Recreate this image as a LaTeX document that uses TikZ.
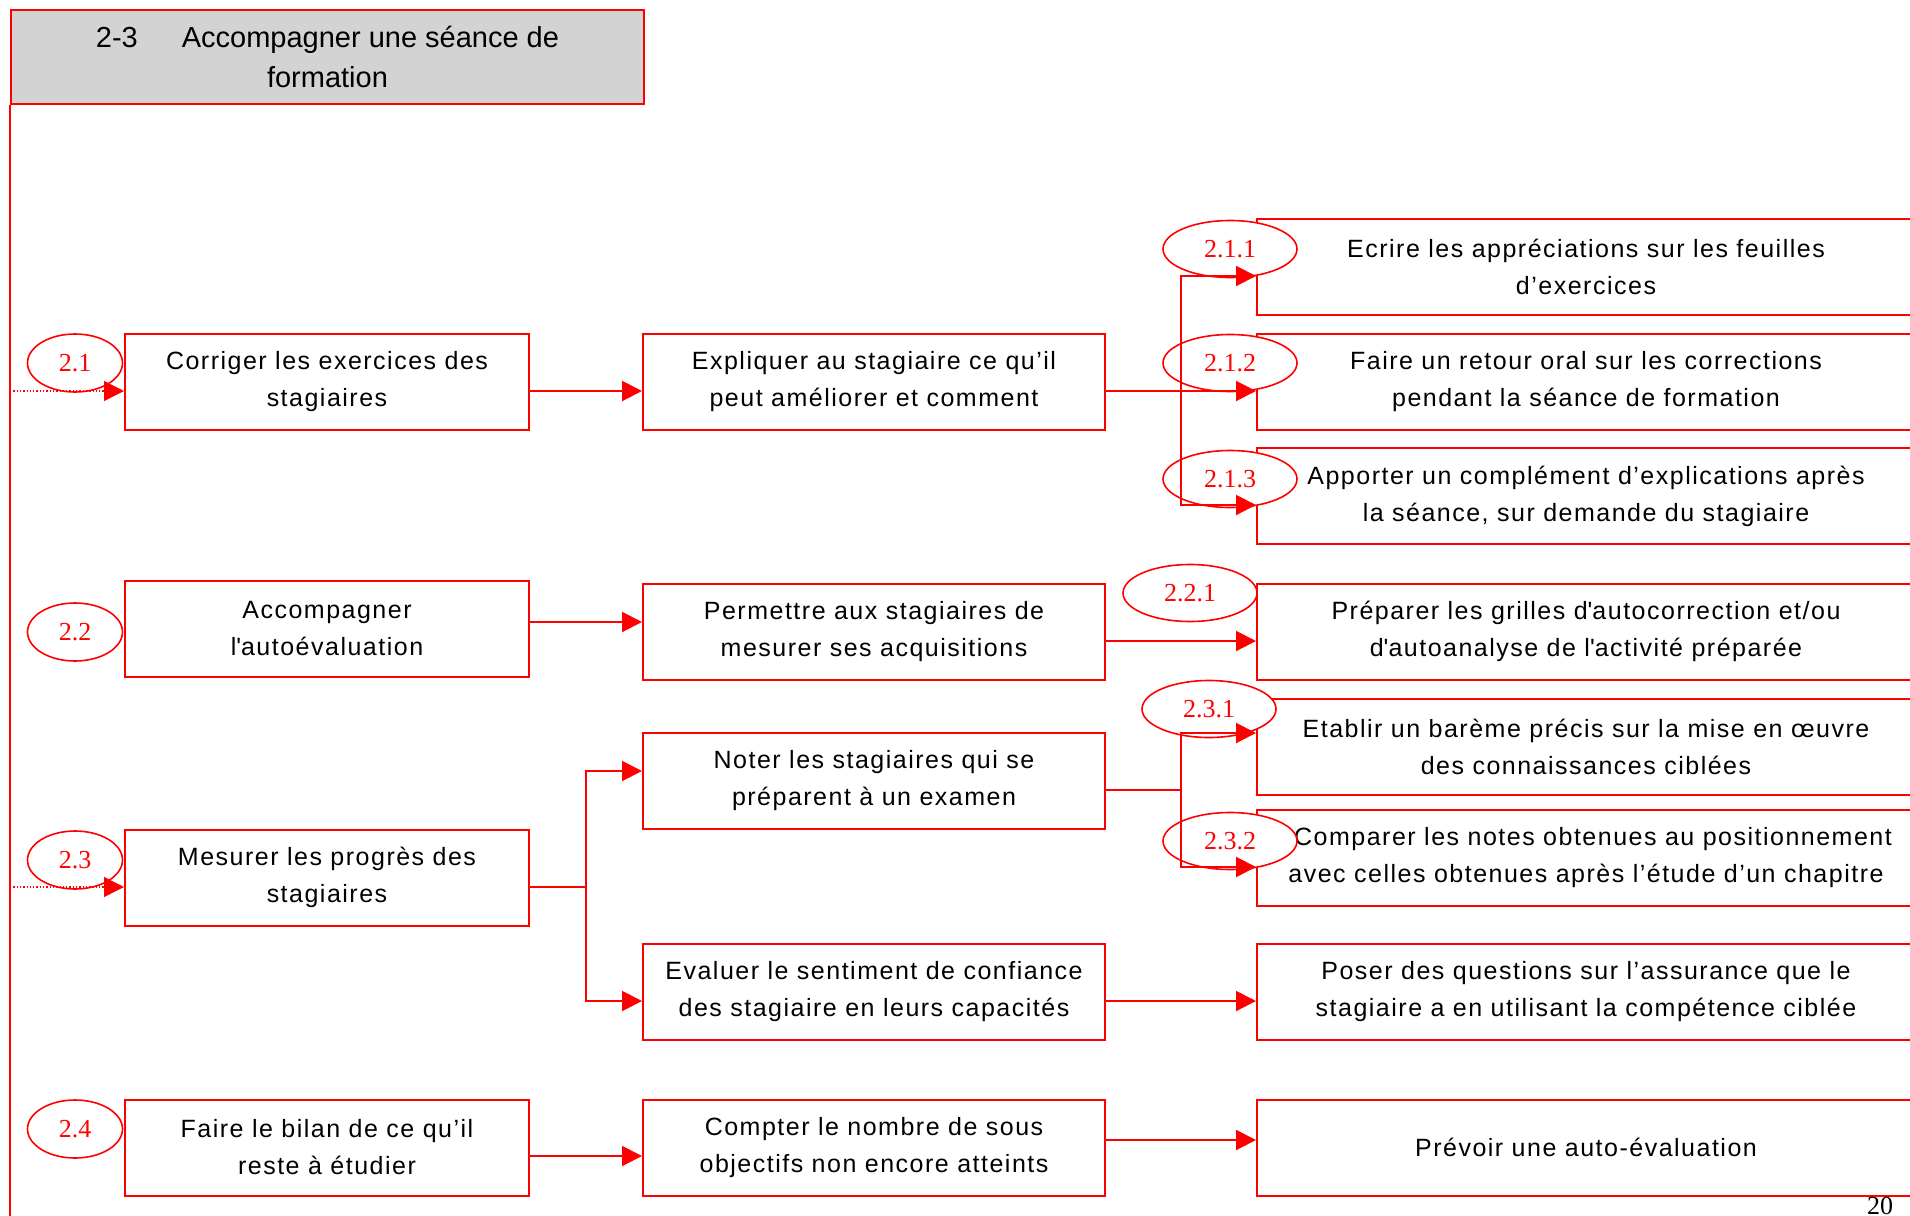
\documentclass[tikz,border=0pt]{standalone}
\usepackage{fontspec}
\setmainfont{Liberation Sans}[LetterSpace=6]
\newfontfamily\titlefont{Liberation Sans}
\newfontfamily\serifnum{Liberation Serif}
\usetikzlibrary{arrows.meta,shapes.geometric}
\definecolor{ttlgray}{RGB}{211,211,211}
\definecolor{rd}{RGB}{255,0,0}
\newcommand{\sq}{\textquotesingle}
\begin{document}
\begin{tikzpicture}[x=1pt,y=-1pt,
  box/.style={draw=rd, line width=2pt, fill=white, minimum height=96pt, align=center, inner sep=0pt, font=\fontsize{25}{37}\selectfont},
  bone/.style={box, minimum width=404pt},
  btwo/.style={box, minimum width=462pt},
  bthree/.style={box, minimum width=658pt},
  num/.style={draw=rd, line width=1.6pt, ellipse, fill=white, inner sep=0pt, text=rd, font=\serifnum\fontsize{26}{26}\selectfont},
  numone/.style={num, minimum width=95pt, minimum height=58pt},
  numthree/.style={num, minimum width=134pt, minimum height=57pt},
  con/.style={draw=rd, line width=2pt},
  arr/.style={con, -{Triangle[length=20pt,width=20pt]}},
  dotarr/.style={draw=rd, line width=1.3pt, dotted, -{Triangle[length=20pt,width=20pt]}}
]
\useasboundingbox (0,0) rectangle (1910,1215);
\clip (0,0) rectangle (1910,1215);

% title
\node[draw=rd, line width=2pt, fill=ttlgray, minimum width=633pt, minimum height=94pt, anchor=north west, align=center, inner sep=0pt, font=\titlefont\fontsize{29}{40}\selectfont] (title) at (10,9) {2-3\hspace{44pt}Accompagner une séance de\\formation};
\draw[con] (title.south west) -- (title.south west |- 0,1230);

% level 1
\node[bone] (b21) at (327,382) {Corriger les exercices des\\stagiaires};
\node[bone] (b22) at (327,629) {Accompagner\\l\sq autoévaluation};
\node[bone] (b23) at (327,877.5) {Mesurer les progrès des\\stagiaires};
\node[bone] (b24) at (327,1147.5) {Faire le bilan de ce qu’il\\reste à étudier};

% level 2
\node[btwo] (e2) at (874,382) {Expliquer au stagiaire ce qu’il\\peut améliorer et comment};
\node[btwo] (p2) at (874,631.5) {Permettre aux stagiaires de\\mesurer ses acquisitions};
\node[btwo] (n2) at (874,781) {Noter les stagiaires qui se\\préparent à un examen};
\node[btwo] (v2) at (874,992) {Evaluer le sentiment de confiance\\des stagiaire en leurs capacités};
\node[btwo] (c2) at (874,1147.5) {Compter le nombre de sous\\objectifs non encore atteints};

% level 3
\node[bthree] (t211) at (1586,267) {Ecrire les appréciations sur les feuilles\\d’exercices};
\node[bthree] (t212) at (1586,382) {Faire un retour oral sur les corrections\\pendant la séance de formation};
\node[bthree] (t213) at (1586,496) {Apporter un complément d’explications après\\la séance, sur demande du stagiaire};
\node[bthree] (t221) at (1586,631.5) {Préparer les grilles d\sq autocorrection et/ou\\d\sq autoanalyse de l\sq activité préparée};
\node[bthree] (t231) at (1586,747) {Etablir un barème précis sur la mise en œuvre\\des connaissances ciblées};
\node[bthree] (t232) at (1586,858) {\hspace*{14pt}Comparer les notes obtenues au positionnement\\avec celles obtenues après l’étude d’un chapitre};
\node[bthree] (t3p) at (1586,992) {Poser des questions sur l’assurance que le\\stagiaire a en utilisant la compétence ciblée};
\node[bthree] (t3c) at (1586,1147.5) {Prévoir une auto-évaluation};

% number ellipses
\node[numone] (e21) at (75,363) {2.1};
\node[numone] (e22) at (75,632) {2.2};
\node[numone] (e23) at (75,860) {2.3};
\node[numone] (e24) at (75,1129) {2.4};
\node[numthree] (e211) at (1230,249) {2.1.1};
\node[numthree] (e212) at (1230,363) {2.1.2};
\node[numthree] (e213) at (1230,479) {2.1.3};
\node[numthree] (e221) at (1190,593) {2.2.1};
\node[numthree] (e231) at (1209,709) {2.3.1};
\node[numthree] (e232) at (1230,841) {2.3.2};

% page number
\node[anchor=north, font=\serifnum\fontsize{26}{26}\selectfont, inner sep=0pt] (pg) at (1880,1197) {20};

% fork points
\coordinate (f23) at (586,887);
\coordinate (f21) at (1181,391);
\coordinate (fn) at (1181,790);

% connectors
\draw[dotarr] (title.south west |- 0,391) -- (b21.west |- 0,391);
\draw[dotarr] (title.south west |- 0,887) -- (b23.west |- 0,887);
\draw[arr] (b21.east |- 0,391) -- (e2.west |- 0,391);
\draw[arr] (b22.east |- 0,622) -- (p2.west |- 0,622);
\draw[con] (b23.east |- f23) -- (f23);
\draw[arr] (f23) |- (n2.west |- 0,771);
\draw[arr] (f23) |- (v2.west |- 0,1001);
\draw[arr] (b24.east |- 0,1156) -- (c2.west |- 0,1156);
\draw[arr] (e2.east |- f21) -- (t212.west |- f21);
\draw[arr] (f21) |- (t211.west |- 0,276);
\draw[arr] (f21) |- (t213.west |- 0,505);
\draw[arr] (p2.east |- 0,641) -- (t221.west |- 0,641);
\draw[con] (n2.east |- fn) -- (fn);
\draw[arr] (fn) |- (t231.west |- 0,733);
\draw[arr] (fn) |- (t232.west |- 0,867);
\draw[arr] (v2.east |- 0,1001) -- (t3p.west |- 0,1001);
\draw[arr] (c2.east |- 0,1140) -- (t3c.west |- 0,1140);
\end{tikzpicture}
\end{document}
